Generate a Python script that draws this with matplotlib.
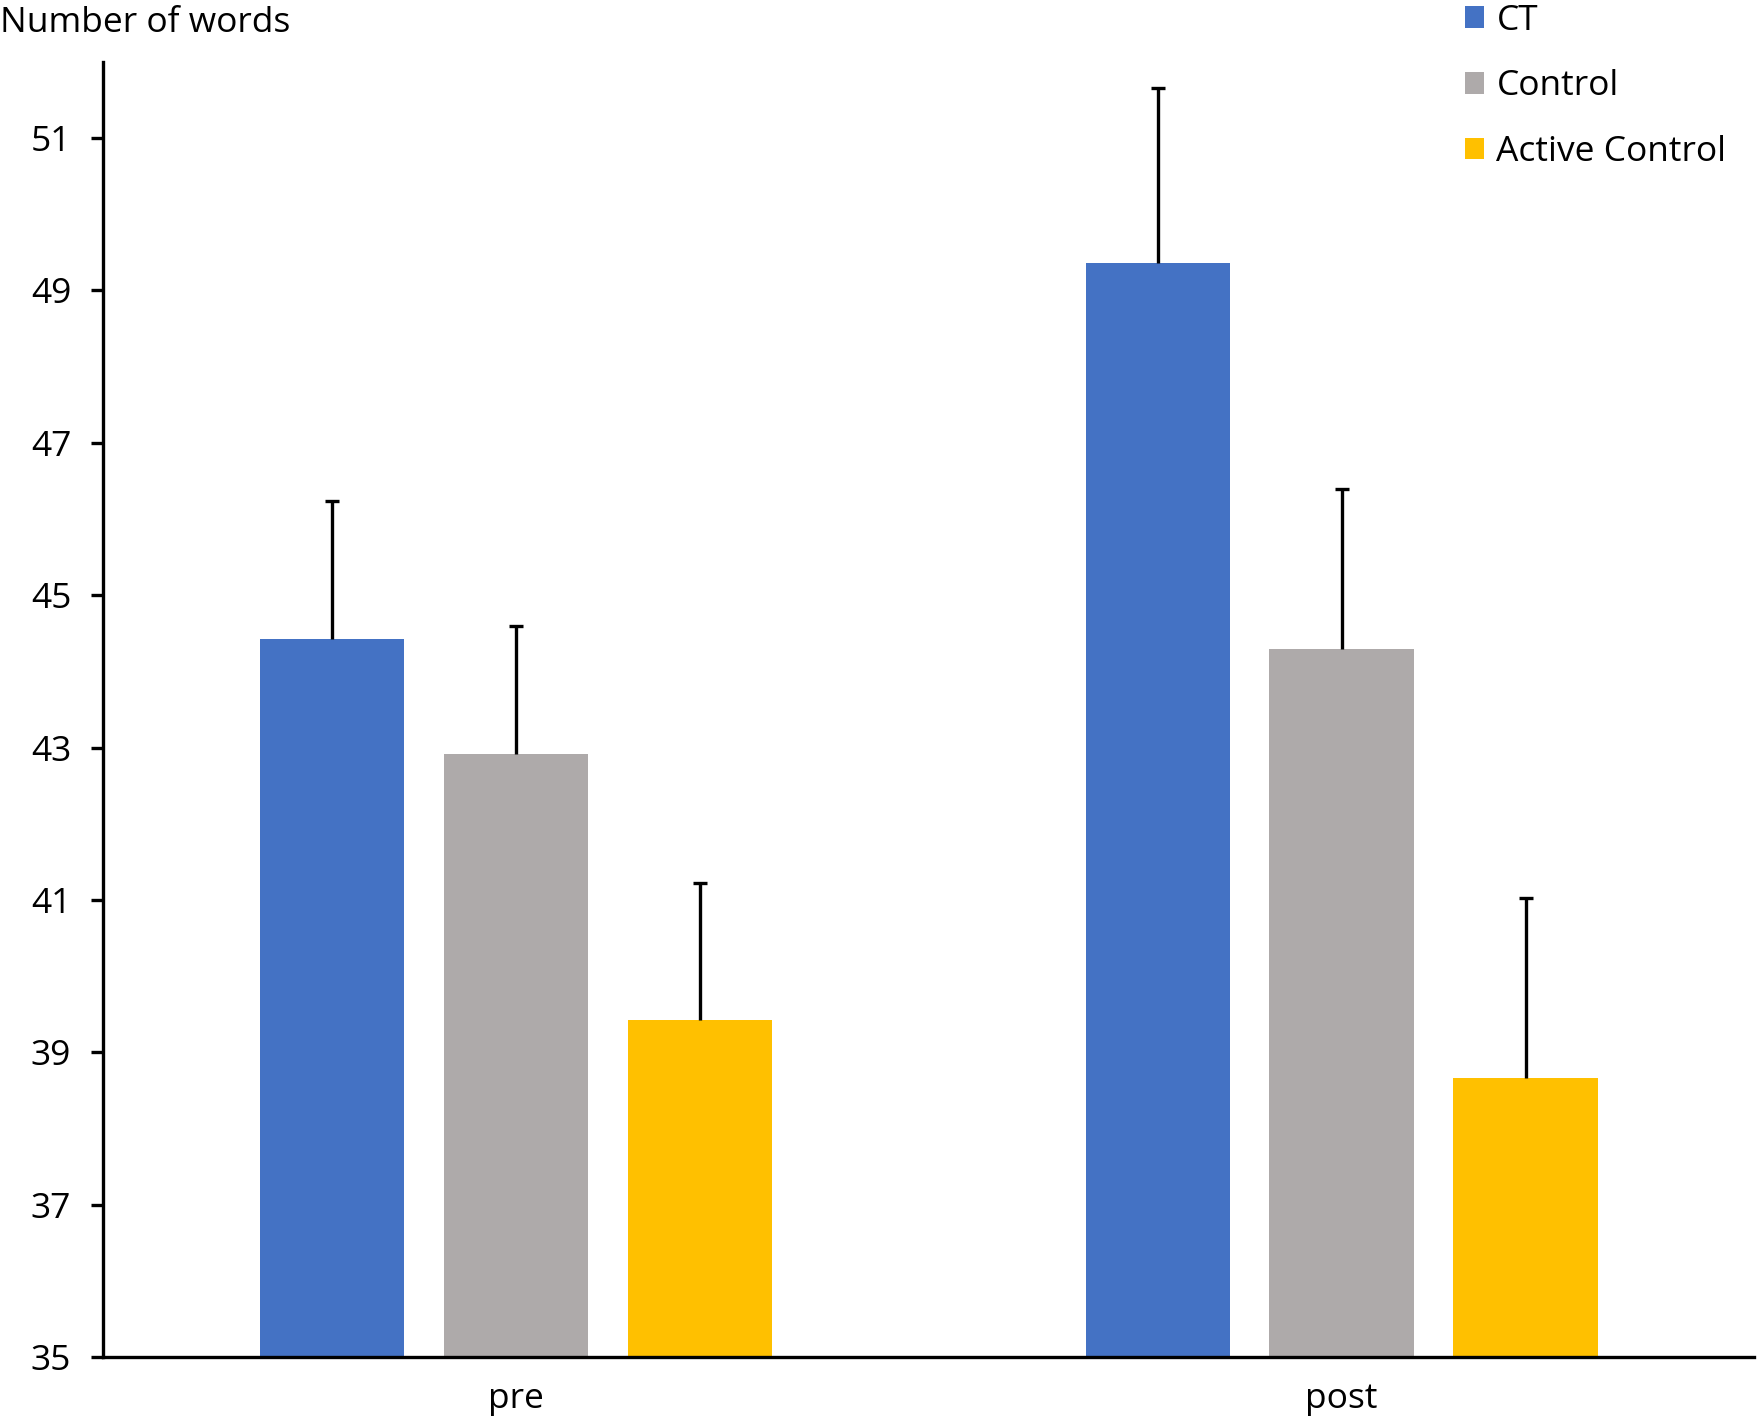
import numpy as np
import matplotlib
matplotlib.use("Agg")
import matplotlib.pyplot as plt

# data
phases = ["pre", "post"]
groups = ["CT", "Control", "Active Control"]
ct_means = [44.43, 49.36]
control_means = [42.91, 44.30]
active_means = [39.42, 38.67]
ct_err = [1.80, 2.30]
control_err = [1.68, 2.09]
active_err = [1.80, 2.36]
y_ticks = [35, 37, 39, 41, 43, 45, 47, 49, 51]

colors = ["#4472C4", "#AEAAAA", "#FFC000"]

plt.rcParams['font.family'] = ['Open Sans', 'DejaVu Sans']

fig = plt.figure(figsize=(17.58, 14.19), dpi=100)
ax = fig.add_axes([0.0587, 0.0435, 0.9393, 0.913])

x = np.arange(len(phases))
width = 0.175
step = 0.2227

means = [ct_means, control_means, active_means]
errs = [ct_err, control_err, active_err]
for i in range(3):
    pos = x + (i - 1) * step
    ax.bar(pos, means[i], width, color=colors[i], label=groups[i], zorder=2)
    eb = ax.errorbar(pos, means[i], yerr=[np.zeros(2), errs[i]], fmt="none",
                     ecolor="black", elinewidth=2.4, capsize=5, capthick=2.4, zorder=3)
    # only the upper cap is shown
    eb[1][0].set_visible(False)

ax.set_xlim(-0.5, 1.5)
ax.set_ylim(35, 52)
ax.set_yticks(y_ticks)
ax.set_xticks(x)
ax.set_xticklabels(phases)

for s in ["top", "right"]:
    ax.spines[s].set_visible(False)
for s in ["left", "bottom"]:
    ax.spines[s].set_linewidth(2.4)
    ax.spines[s].set_color("black")

ax.tick_params(axis="y", length=9, width=2.4, labelsize=25.5, pad=14, colors="black")
ax.tick_params(axis="x", length=0, labelsize=25.5, pad=18)

fig.text(0.0, 0.984, "Number of words", fontsize=25.5, va="center", ha="left")

fig.legend(loc="upper left", bbox_to_anchor=(0.825, 1.0075), frameon=False,
           fontsize=25.5, handlelength=0.55, handleheight=0.55, handletextpad=0.35,
           labelspacing=0.9, borderaxespad=0)

fig.savefig("out.png", dpi=100)
